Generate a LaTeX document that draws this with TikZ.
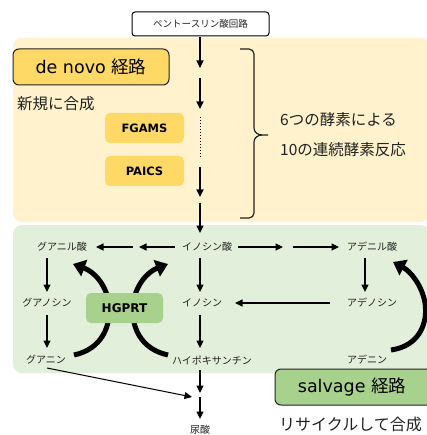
\documentclass[tikz,border=0pt]{standalone}
\usepackage{fontspec}
\setmainfont{DejaVu Sans}
\newfontfamily\jp{Noto Sans CJK JP}
\usetikzlibrary{arrows.meta}
\definecolor{ybg}{HTML}{FFF2CC}
\definecolor{gold}{HTML}{FFD966}
\definecolor{gbg}{HTML}{E2EFDA}
\definecolor{gbox}{HTML}{A9D18E}
\definecolor{ink}{HTML}{222222}
\tikzset{
  arr/.style={line width=1.2pt,-{Triangle[width=7pt,length=7.5pt]},draw=black},
  fat/.style={line width=5pt,-{Triangle[width=17pt,length=12pt]},draw=black},
  lbl/.style={font=\jp\fontsize{10}{12}\selectfont,text=ink,inner sep=0pt},
  big/.style={font=\jp\fontsize{15.5}{18}\selectfont,text=ink,inner sep=0pt,anchor=west},
  enz/.style={fill=gold,rounded corners=5pt,minimum width=79pt,minimum height=30pt,inner sep=0pt,font=\bfseries\fontsize{11.5}{14}\selectfont},
}
\begin{document}
\begin{tikzpicture}[x=1pt,y=-1pt]
\useasboundingbox (0,0) rectangle (426,435);
\fill[white] (0,0) rectangle (426,435);
% backgrounds
\fill[ybg,rounded corners=9pt] (13,38) rectangle (430,222);
\fill[gbg,rounded corners=9pt] (13,225) rectangle (430,373);
% top box
\node[draw=black,line width=1pt,rounded corners=3pt,minimum width=137pt,minimum height=24pt,inner sep=0pt,
  font=\jp\fontsize{9.5}{11}\selectfont,text=ink] (ppp) at (200.5,24) {ペントースリン酸回路};
% de novo box
\node[draw=ink,line width=1pt,fill=gold,rounded corners=6pt,minimum width=156pt,minimum height=36pt,inner sep=0pt,
  font=\fontsize{17.5}{20}\selectfont] (denovo) at (91,67) {de novo {\jp 経路}};
\node[big] (shinki) at (17,104) {新規に合成};
\node[enz] (fgams) at (144.5,128) {FGAMS};
\node[enz] (paics) at (144.5,171) {PAICS};
% main column
\coordinate (a1s) at (200,37);  \coordinate (a1e) at (200,68);
\coordinate (a2s) at (200,78);  \coordinate (a2e) at (200,109);
\coordinate (d1) at (200,117);  \coordinate (d2) at (200,157);
\coordinate (a3s) at (200,167); \coordinate (a3e) at (200,197);
\coordinate (a4s) at (200,203); \coordinate (a4e) at (200,233);
\draw[arr] (a1s) -- (a1e);
\draw[arr] (a2s) -- (a2e);
\draw[line width=1pt,dotted] (d1) -- (d2);
\draw[arr] (a3s) -- (a3e);
\draw[arr] (a4s) -- (a4e);
% brace
\draw[line width=1.2pt,draw=ink] (240,49) -- (249,49) to[out=0,in=90] (254,54) -- (254,128)
  to[out=-90,in=180] (262,135) -- (268,135);
\draw[line width=1.2pt,draw=ink] (240,218) -- (249,218) to[out=0,in=-90] (254,213) -- (254,142)
  to[out=90,in=180] (262,135);
\node[big] (t1) at (280,120) {6つの酵素による};
\node[big] (t2) at (280,150) {10の連続酵素反応};
% salvage nodes
\node[lbl] (gmp) at (62,247) {グアニル酸};
\node[lbl] (imp) at (207,247) {イノシン酸};
\node[lbl] (amp) at (372,247) {アデニル酸};
\node[lbl] (guo) at (47,303) {グアノシン};
\node[lbl] (ino) at (202,303) {イノシン};
\node[lbl] (ado) at (372,303) {アデノシン};
\node[lbl] (gua) at (46,360) {グアニン};
\node[lbl] (hyp) at (212,360) {ハイポキサンチン};
\node[lbl] (ade) at (367,360) {アデニン};
\node[lbl] (uric) at (200,430) {尿酸};
% thin arrows
\coordinate (g1s) at (175,247); \coordinate (g1e) at (139,247);
\coordinate (g2s) at (133,247); \coordinate (g2e) at (96,247);
\draw[arr] (g1s) -- (g1e);
\draw[arr] (g2s) -- (g2e);
\coordinate (m1s) at (238,247); \coordinate (m1e) at (283,247);
\coordinate (m2s) at (293,247); \coordinate (m2e) at (339,247);
\draw[arr] (m1s) -- (m1e);
\draw[arr] (m2s) -- (m2e);
\coordinate (v1s) at (47,258); \coordinate (v1e) at (47,292);
\coordinate (v2s) at (47,315); \coordinate (v2e) at (47,348);
\coordinate (v3s) at (200,258); \coordinate (v3e) at (200,292);
\coordinate (v4s) at (200,315); \coordinate (v4e) at (200,348);
\coordinate (v5s) at (365,258); \coordinate (v5e) at (365,292);
\coordinate (h1s) at (330,303); \coordinate (h1e) at (235,303);
\coordinate (u1s) at (200,370); \coordinate (u1e) at (200,393);
\coordinate (u2s) at (200,397); \coordinate (u2e) at (200,419);
\coordinate (gu1) at (47,368);  \coordinate (gu2) at (192,397);
\draw[arr] (v1s) -- (v1e);
\draw[arr] (v2s) -- (v2e);
\draw[arr] (v3s) -- (v3e);
\draw[arr] (v4s) -- (v4e);
\draw[arr] (v5s) -- (v5e);
\draw[arr] (h1s) -- (h1e);
\draw[arr] (u1s) -- (u1e);
\draw[arr] (u2s) -- (u2e);
\draw[arr,line width=1pt] (gu1) -- (gu2);
% thick curved arrows
\draw[fat] (74,355) .. controls (102,349) and (111,326) .. (109,305) .. controls (107,286) and (95,272) .. (73,264);
\draw[fat] (168,355) .. controls (140,349) and (131,326) .. (133,305) .. controls (135,286) and (147,272) .. (168,264);
\draw[fat] (391,350) .. controls (420,346) and (428,322) .. (425,303) .. controls (422,285) and (410,271) .. (393,262);
% HGPRT
\node[fill=gbox,rounded corners=5pt,minimum width=77pt,minimum height=30pt,inner sep=0pt,
  font=\bfseries\fontsize{12}{14}\selectfont] (hgprt) at (124.5,308) {HGPRT};
% salvage box
\draw[draw=ink,line width=1pt,fill=gbox,rounded corners=6pt] (275,369) rectangle (445,405);
\node[font=\fontsize{17.5}{20}\selectfont,inner sep=0pt] (salv) at (352,387) {salvage {\jp 経路}};
\node[big,font=\jp\fontsize{16}{18}\selectfont] (recyc) at (279,424) {リサイクルして合成};
\end{tikzpicture}
\end{document}
